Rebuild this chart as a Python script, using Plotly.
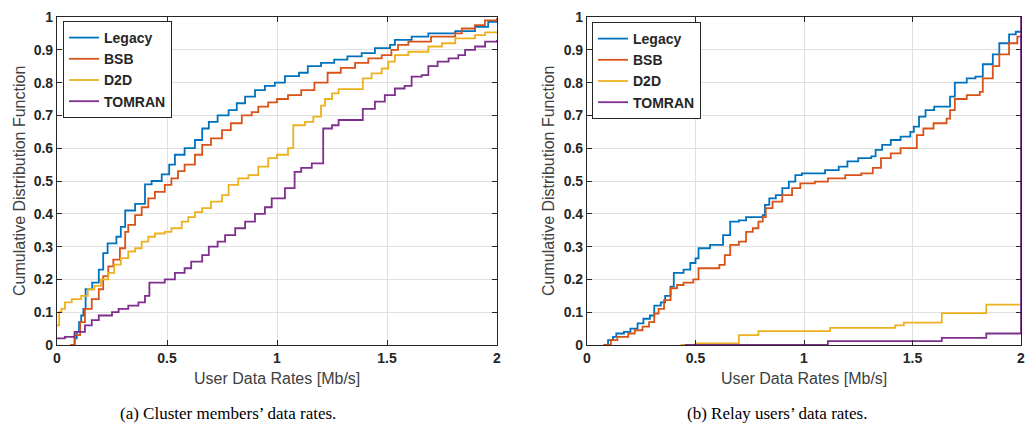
import plotly.graph_objects as go

# ---------------- data : panel (a) cluster members ----------------
a_legacy_x = [0.07, 0.08, 0.09, 0.10, 0.11, 0.12, 0.13, 0.16, 0.19, 0.21, 0.23, 0.27, 0.29, 0.31, 0.355,
              0.40, 0.43, 0.476, 0.51, 0.536, 0.58, 0.627, 0.66, 0.69, 0.73, 0.78, 0.817, 0.855, 0.90,
              0.945, 0.99, 1.036, 1.10, 1.14, 1.20, 1.26, 1.32, 1.385, 1.445, 1.514, 1.536, 1.612, 1.688,
              1.81, 1.90, 1.96, 2.0]
a_legacy_y = [0.0, 0.02, 0.04, 0.07, 0.09, 0.11, 0.17, 0.19, 0.23, 0.28, 0.31, 0.33, 0.36, 0.41, 0.43,
              0.49, 0.50, 0.52, 0.55, 0.58, 0.60, 0.625, 0.66, 0.68, 0.70, 0.716, 0.737, 0.757, 0.777,
              0.79, 0.80, 0.82, 0.83, 0.85, 0.86, 0.87, 0.88, 0.89, 0.905, 0.915, 0.93, 0.94, 0.95,
              0.957, 0.97, 0.985, 0.996]

a_bsb_x = [0.06, 0.08, 0.105, 0.127, 0.158, 0.19, 0.21, 0.233, 0.256, 0.286, 0.31, 0.324, 0.355, 0.385,
           0.415, 0.445, 0.49, 0.52, 0.55, 0.58, 0.627, 0.66, 0.70, 0.75, 0.79, 0.84, 0.885, 0.915, 0.96,
           1.0, 1.05, 1.11, 1.17, 1.23, 1.29, 1.355, 1.415, 1.476, 1.52, 1.55, 1.597, 1.70, 1.81, 1.84,
           1.90, 1.945, 2.0]
a_bsb_y = [0.0, 0.03, 0.07, 0.11, 0.14, 0.17, 0.21, 0.24, 0.26, 0.295, 0.345, 0.366, 0.396, 0.42,
           0.447, 0.467, 0.488, 0.508, 0.53, 0.55, 0.58, 0.61, 0.63, 0.655, 0.676, 0.70, 0.71, 0.727, 0.74,
           0.75, 0.762, 0.777, 0.80, 0.83, 0.845, 0.86, 0.874, 0.884, 0.90, 0.915, 0.925, 0.94, 0.95, 0.965,
           0.975, 0.99, 0.996]

a_d2d_x = [0.0, 0.01, 0.02, 0.036, 0.067, 0.11, 0.14, 0.17, 0.20, 0.233, 0.26, 0.29, 0.324, 0.355, 0.385,
           0.415, 0.445, 0.49, 0.52, 0.567, 0.597, 0.627, 0.66, 0.70, 0.75, 0.78, 0.824, 0.87, 0.915, 0.96,
           1.0, 1.05, 1.074, 1.127, 1.165, 1.20, 1.218, 1.25, 1.28, 1.39, 1.43, 1.476, 1.506, 1.536, 1.597,
           1.688, 1.75, 1.81, 1.90, 1.946, 2.0]
a_d2d_y = [0.06, 0.10, 0.11, 0.13, 0.14, 0.15, 0.17, 0.18, 0.20, 0.22, 0.245, 0.265, 0.285, 0.295, 0.315,
           0.33, 0.34, 0.345, 0.356, 0.376, 0.39, 0.405, 0.417, 0.437, 0.457, 0.488, 0.508, 0.518, 0.544, 0.57,
           0.58, 0.60, 0.67, 0.68, 0.696, 0.73, 0.75, 0.767, 0.78, 0.813, 0.828, 0.843, 0.864, 0.884, 0.894,
           0.91, 0.92, 0.935, 0.945, 0.953, 0.955]

a_tomran_x = [0.0, 0.036, 0.08, 0.127, 0.158, 0.19, 0.25, 0.28, 0.324, 0.37, 0.40, 0.42, 0.49, 0.536, 0.58,
              0.61, 0.66, 0.69, 0.73, 0.764, 0.81, 0.855, 0.90, 0.945, 0.976, 1.036, 1.08, 1.11, 1.158, 1.21,
              1.25, 1.28, 1.39, 1.445, 1.49, 1.536, 1.58, 1.612, 1.658, 1.688, 1.73, 1.78, 1.824, 1.855, 1.90,
              1.946, 2.0]
a_tomran_y = [0.02, 0.025, 0.04, 0.06, 0.076, 0.09, 0.10, 0.11, 0.12, 0.13, 0.15, 0.19, 0.20, 0.22, 0.234,
              0.254, 0.274, 0.30, 0.315, 0.335, 0.356, 0.376, 0.40, 0.42, 0.447, 0.478, 0.528, 0.54, 0.554, 0.66,
              0.67, 0.686, 0.72, 0.742, 0.762, 0.782, 0.79, 0.818, 0.823, 0.85, 0.864, 0.874, 0.884, 0.90, 0.91,
              0.925, 0.93]

# ---------------- data : panel (b) relay users ----------------
b_legacy_x = [0.08, 0.097, 0.12, 0.135, 0.17, 0.20, 0.233, 0.26, 0.29, 0.31, 0.34, 0.36, 0.385, 0.40, 0.445,
              0.476, 0.50, 0.514, 0.567, 0.627, 0.66, 0.70, 0.733, 0.81, 0.82, 0.84, 0.87, 0.90, 0.93, 0.96,
              0.99, 1.097, 1.16, 1.20, 1.25, 1.31, 1.33, 1.36, 1.40, 1.445, 1.49, 1.506, 1.53, 1.56, 1.60,
              1.673, 1.695, 1.75, 1.79, 1.824, 1.87, 1.90, 1.945, 1.976, 2.0]
b_legacy_y = [0.0, 0.015, 0.025, 0.035, 0.04, 0.05, 0.066, 0.08, 0.09, 0.12, 0.13, 0.15, 0.178, 0.22, 0.23,
              0.25, 0.264, 0.295, 0.305, 0.335, 0.376, 0.38, 0.39, 0.396, 0.427, 0.447, 0.457, 0.478, 0.498, 0.518,
              0.523, 0.533, 0.544, 0.56, 0.57, 0.575, 0.595, 0.61, 0.625, 0.635, 0.65, 0.666, 0.696, 0.716, 0.727,
              0.757, 0.80, 0.813, 0.818, 0.856, 0.886, 0.92, 0.947, 0.955, 0.96]

b_bsb_x = [0.075, 0.11, 0.14, 0.19, 0.22, 0.256, 0.286, 0.31, 0.33, 0.355, 0.385, 0.415, 0.445, 0.49, 0.514,
           0.61, 0.635, 0.66, 0.70, 0.733, 0.764, 0.79, 0.81, 0.824, 0.855, 0.90, 0.945, 0.983, 1.05, 1.11,
           1.19, 1.264, 1.317, 1.355, 1.40, 1.445, 1.52, 1.55, 1.597, 1.657, 1.673, 1.695, 1.75, 1.81, 1.824,
           1.87, 1.90, 1.945, 1.983, 2.0]
b_bsb_y = [0.0, 0.015, 0.025, 0.035, 0.045, 0.056, 0.07, 0.096, 0.11, 0.137, 0.173, 0.183, 0.19, 0.20, 0.234,
           0.244, 0.274, 0.305, 0.315, 0.345, 0.356, 0.376, 0.39, 0.417, 0.437, 0.457, 0.478, 0.493, 0.498, 0.508,
           0.518, 0.523, 0.54, 0.57, 0.584, 0.60, 0.64, 0.66, 0.676, 0.69, 0.716, 0.75, 0.762, 0.772, 0.813,
           0.85, 0.886, 0.92, 0.94, 0.945]

b_d2d_x = [0.43, 0.50, 0.70, 0.79, 1.12, 1.42, 1.46, 1.635, 1.84, 2.0]
b_d2d_y = [0.0, 0.005, 0.03, 0.042, 0.052, 0.06, 0.068, 0.097, 0.123, 0.123]

b_tomran_x = [0.45, 1.11, 1.635, 1.84, 2.0, 2.0]
b_tomran_y = [0.0, 0.012, 0.022, 0.035, 0.035, 1.0]

series_names = ["Legacy", "BSB", "D2D", "TOMRAN"]
series_colors = ["#0072BD", "#D95319", "#EDB120", "#7E2F8E"]

x_ticks = [0, 0.5, 1, 1.5, 2]
x_tick_labels = ["0", "0.5", "1", "1.5", "2"]
y_ticks = [0, 0.1, 0.2, 0.3, 0.4, 0.5, 0.6, 0.7, 0.8, 0.9, 1.0]
y_tick_labels = ["0", "0.1", "0.2", "0.3", "0.4", "0.5", "0.6", "0.7", "0.8", "0.9", "1"]

x_title = "User Data Rates [Mb/s]"
y_title = "Cumulative Distribution Function"
caption_a = "(a) Cluster members\u2019 data rates."
caption_b = "(b) Relay users\u2019 data rates."

# ---------------- figure ----------------
W, H = 1028, 430
fig = go.Figure()

panel_a = [(a_legacy_x, a_legacy_y), (a_bsb_x, a_bsb_y), (a_d2d_x, a_d2d_y), (a_tomran_x, a_tomran_y)]
panel_b = [(b_legacy_x, b_legacy_y), (b_bsb_x, b_bsb_y), (b_d2d_x, b_d2d_y), (b_tomran_x, b_tomran_y)]

for (xs, ys), name, col in zip(panel_a, series_names, series_colors):
    fig.add_trace(go.Scatter(x=xs, y=ys, mode="lines", name=name,
                             line=dict(color=col, width=1.8, shape="hv"),
                             xaxis="x", yaxis="y", legend="legend"))
for (xs, ys), name, col in zip(panel_b, series_names, series_colors):
    fig.add_trace(go.Scatter(x=xs, y=ys, mode="lines", name=name,
                             line=dict(color=col, width=1.8, shape="hv"),
                             xaxis="x2", yaxis="y2", legend="legend2"))

def px_x(p):
    return p / W

def px_y(p):
    return 1 - p / H

tick_font = dict(family="Liberation Sans, Arial, sans-serif", size=14, color="#262626", weight="bold")
common_x = dict(range=[0, 2], tickvals=x_ticks, ticktext=x_tick_labels, showgrid=True,
                gridcolor="#e0e0e0", gridwidth=1, zeroline=False, showline=True, linecolor="#262626",
                linewidth=1.2, mirror="ticks", ticks="inside", ticklen=5, tickcolor="#262626",
                tickfont=tick_font, automargin=False)
common_y = dict(range=[0, 1], tickvals=y_ticks, ticktext=y_tick_labels, showgrid=True,
                gridcolor="#e0e0e0", gridwidth=1, zeroline=False, showline=True, linecolor="#262626",
                linewidth=1.2, mirror="ticks", ticks="inside", ticklen=5, tickcolor="#262626",
                tickfont=tick_font, automargin=False)

ax_a = (57, 497)
ax_b = (587, 1021)
ax_top, ax_bot = 17, 345

legend_font = dict(family="Liberation Sans, Arial, sans-serif", size=14, color="#262626", weight="bold")

fig.update_layout(
    width=W, height=H,
    margin=dict(l=0, r=0, t=0, b=0),
    paper_bgcolor="white", plot_bgcolor="white",
    xaxis=dict(domain=[px_x(ax_a[0]), px_x(ax_a[1])], anchor="y", **common_x),
    yaxis=dict(domain=[px_y(ax_bot), px_y(ax_top)], anchor="x", **common_y),
    xaxis2=dict(domain=[px_x(ax_b[0]), px_x(ax_b[1])], anchor="y2", ticklabeloverflow="allow", **common_x),
    yaxis2=dict(domain=[px_y(ax_bot), px_y(ax_top)], anchor="x2", **common_y),
    legend=dict(x=px_x(63), y=px_y(21), xanchor="left", yanchor="top", bgcolor="white",
                bordercolor="#262626", borderwidth=1, font=legend_font),
    legend2=dict(x=px_x(592), y=px_y(22), xanchor="left", yanchor="top", bgcolor="white",
                 bordercolor="#262626", borderwidth=1, font=legend_font),
    showlegend=True,
)

title_font = dict(family="Liberation Sans, Arial, sans-serif", size=16, color="#404040")
cap_font = dict(family="Liberation Serif, Times New Roman, serif", size=17, color="black")
annots = [
    dict(text=y_title, x=px_x(19), y=px_y((ax_top + ax_bot) / 2), textangle=-90, font=title_font),
    dict(text=y_title, x=px_x(548), y=px_y((ax_top + ax_bot) / 2), textangle=-90, font=title_font),
    dict(text=x_title, x=px_x((ax_a[0] + ax_a[1]) / 2), y=px_y(378), font=title_font),
    dict(text=x_title, x=px_x((ax_b[0] + ax_b[1]) / 2), y=px_y(378), font=title_font),
    dict(text=caption_a, x=px_x(228), y=px_y(413), font=cap_font),
    dict(text=caption_b, x=px_x(777), y=px_y(413), font=cap_font),
]
for a in annots:
    fig.add_annotation(xref="paper", yref="paper", xanchor="center", yanchor="middle",
                       showarrow=False, **a)

fig.write_html("out.html")
